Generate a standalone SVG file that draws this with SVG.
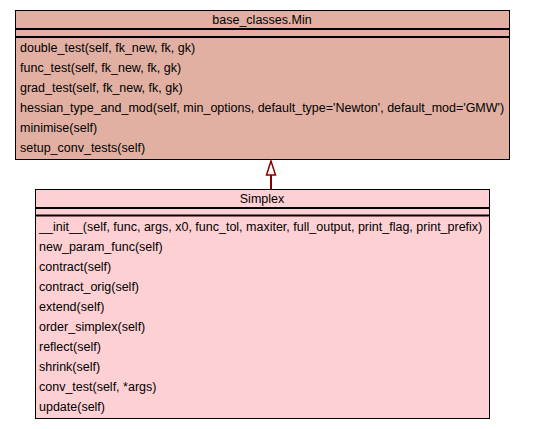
<svg xmlns="http://www.w3.org/2000/svg" width="541" height="429" viewBox="0 0 541 429">
<style>
text { font-family: "Liberation Sans", Arial, sans-serif; font-size: 12.5px; fill: #000; }
.t { text-anchor: middle; }
.box { stroke: #000; stroke-width: 1; }
.sep { stroke: #000; stroke-width: 2; }
.edge { stroke: #8b0000; stroke-width: 2; fill: none; }
</style>
<defs>
<marker id="inh" markerWidth="17" markerHeight="12" refX="15" refY="6" orient="auto" markerUnits="userSpaceOnUse" viewBox="0 0 17 12">
<path d="M15,6 L1,1.5 L1,10.5 Z" fill="#fff" stroke="#8b0000" stroke-width="1.5"/>
</marker>
</defs>
<rect width="541" height="429" fill="#fff"/>
<g id="base_classes.Min">
<rect class="box" x="15.5" y="10.5" width="494" height="149" fill="#e1b0a3"/>
<line class="sep" x1="15.5" y1="29" x2="509.5" y2="29"/>
<line class="sep" x1="15.5" y1="37" x2="509.5" y2="37"/>
<text class="t" x="262" y="24">base_classes.Min</text>
<text x="20" y="52">double_test(self, fk_new, fk, gk)</text>
<text x="20" y="72">func_test(self, fk_new, fk, gk)</text>
<text x="20" y="92">grad_test(self, fk_new, fk, gk)</text>
<text x="20" y="112">hessian_type_and_mod(self, min_options, default_type='Newton', default_mod='GMW')</text>
<text x="20" y="132">minimise(self)</text>
<text x="20" y="152">setup_conv_tests(self)</text>
</g>
<g id="Simplex">
<rect class="box" x="35.5" y="189.5" width="454" height="229" fill="#fdd0d4"/>
<line class="sep" x1="35.5" y1="208" x2="489.5" y2="208"/>
<line class="sep" x1="35.5" y1="215.5" x2="489.5" y2="215.5"/>
<text class="t" x="262" y="203">Simplex</text>
<text x="39" y="231">__init__(self, func, args, x0, func_tol, maxiter, full_output, print_flag, print_prefix)</text>
<text x="39" y="251">new_param_func(self)</text>
<text x="39" y="271">contract(self)</text>
<text x="39" y="291">contract_orig(self)</text>
<text x="39" y="311">extend(self)</text>
<text x="39" y="331">order_simplex(self)</text>
<text x="39" y="351">reflect(self)</text>
<text x="39" y="371">shrink(self)</text>
<text x="39" y="391">conv_test(self, *args)</text>
<text x="39" y="411">update(self)</text>
</g>
<g id="connectors">
<path class="edge" d="M271,189 L271,161" marker-end="url(#inh)"/>
</g>
</svg>
